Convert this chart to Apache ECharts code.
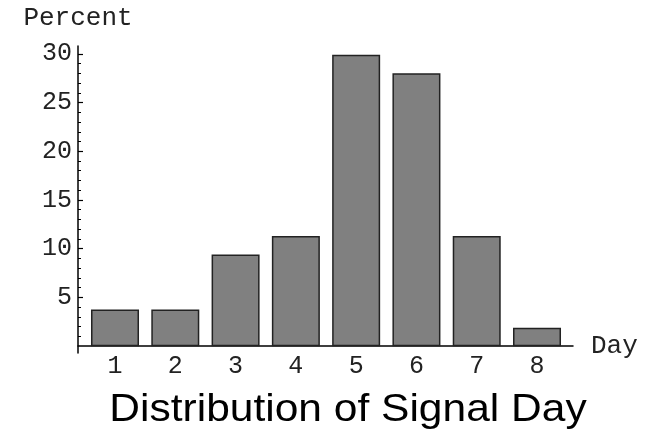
<!DOCTYPE html>
<html><head><meta charset="utf-8">
<script src="https://cdn.jsdelivr.net/npm/echarts@6/dist/echarts.min.js"></script>
<style>html,body{margin:0;padding:0;background:#fff}#c{width:648px;height:434px}</style>
</head><body><div id="c"></div>
<script>
const days = [1, 2, 3, 4, 5, 6, 7, 8];
const percents = [3.77, 3.77, 9.4, 11.3, 29.9, 28.0, 11.3, 1.88];
const yMajorTicks = [5, 10, 15, 20, 25, 30];
const yMinorTicks = [1,2,3,4,6,7,8,9,11,12,13,14,16,17,18,19,21,22,23,24,26,27,28,29];
const titleText = 'Distribution of Signal Day';

const mono = '"Courier New", "Liberation Mono", monospace';
const chart = echarts.init(document.getElementById('c'), null, {renderer: 'canvas'});
chart.setOption({
  animation: false,
  backgroundColor: '#fff',
  graphic: [{
    type: 'text', x: 348, y: 410, scaleX: 1.09, scaleY: 1,
    style: {
      text: titleText, fill: '#000', align: 'center', verticalAlign: 'middle',
      font: 'normal 39px "Liberation Sans", Arial, sans-serif'
    }
  }],
  grid: {left: 78, right: 75, top: 46, bottom: 81, containLabel: false},
  xAxis: {
    type: 'value', min: 0.386, max: 8.597, interval: 1,
    name: 'Day', nameLocation: 'end', nameGap: 18,
    nameTextStyle: {fontFamily: mono, fontSize: 26, color: '#222', align: 'left', verticalAlign: 'middle'},
    axisLine: {onZero: true, lineStyle: {color: '#000', width: 1.5}},
    axisTick: {show: false},
    splitLine: {show: false},
    axisLabel: {
      customValues: days, margin: 1, fontFamily: mono, fontSize: 25, color: '#222',
      formatter: v => Number.isInteger(v) ? String(v) : ''
    }
  },
  yAxis: [{
    type: 'value', min: -0.7, max: 30.8, interval: 5,
    name: 'Percent', nameLocation: 'end', nameGap: 28,
    nameTextStyle: {fontFamily: mono, fontSize: 26, color: '#222', align: 'center', verticalAlign: 'middle'},
    axisLine: {show: true, onZero: false, lineStyle: {color: '#000', width: 1.5}},
    axisTick: {show: true, inside: true, length: 5, customValues: yMajorTicks, lineStyle: {color: '#000', width: 1.2}},
    splitLine: {show: false},
    axisLabel: {
      customValues: yMajorTicks, margin: 6, fontFamily: mono, fontSize: 25, color: '#222',
      formatter: v => (v > 0 && v % 5 === 0) ? String(v) : ''
    }
  }, {
    type: 'value', min: -0.7, max: 30.8, position: 'left', offset: 0,
    axisLine: {show: false, onZero: false},
    axisTick: {show: true, inside: true, length: 3, customValues: yMinorTicks, lineStyle: {color: '#000', width: 1}},
    axisLabel: {show: false},
    splitLine: {show: false}
  }],
  series: [{
    type: 'bar', yAxisIndex: 0, barWidth: 48,
    data: days.map((d, i) => [d, percents[i]]),
    itemStyle: {color: '#808080', borderColor: '#222', borderWidth: 1.5}
  }]
});
</script></body></html>
